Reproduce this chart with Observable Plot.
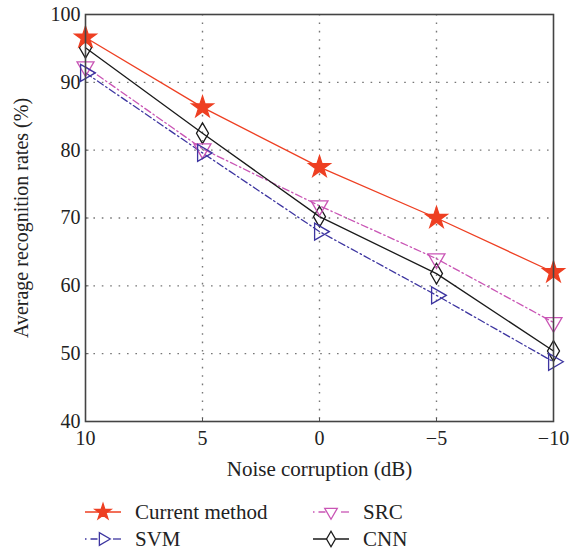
<!DOCTYPE html>
<html><head><meta charset="utf-8">
<script src="https://cdn.jsdelivr.net/npm/d3@7"></script>
<script src="https://cdn.jsdelivr.net/npm/@observablehq/plot@0.6"></script>
<style>
body{margin:0;background:#fff;font-family:"Liberation Serif","DejaVu Serif",serif;}
#legend{position:relative;height:68px;font-size:21px;color:#222;}
.item{position:absolute;display:flex;align-items:center;height:24px;}
.item svg{margin-right:14px;}
</style></head><body>
<div id="chart"></div>
<div id="legend"></div>
<script>
const noise = [10, 5, 0, -5, -10];
const currentMethod = [96.6, 86.3, 77.5, 70.0, 62.0];
const svm = [91.4, 79.6, 68.0, 58.6, 48.8];
const src = [92.3, 80.2, 71.8, 64.0, 54.6];
const cnn = [95.1, 82.5, 70.2, 61.8, 50.4];
const yTicks = [40, 50, 60, 70, 80, 90, 100];

const series = [
  {name: "Current method", values: currentMethod, color: "#ee3f22", dash: null, symbol: "star", rotate: 0, fill: "#ee3f22", r: 6.8},
  {name: "SVM", values: svm, color: "#3d35a0", dash: "7,3,1.5,3", symbol: "triangle", rotate: 90, fill: "white", r: 6.3},
  {name: "SRC", values: src, color: "#c955b5", dash: "7,3,1.5,3", symbol: "triangle", rotate: 180, fill: "white", r: 6.3},
  {name: "CNN", values: cnn, color: "#1a1a1a", dash: null, symbol: "diamond", rotate: 0, fill: "white", r: 6.3}
];
const rows = series.flatMap(s => noise.map((x, i) => ({series: s.name, x, y: s.values[i]})));

const marks = [
  Plot.ruleX([5, 0, -5], {x: d => d, stroke: "#777", strokeDasharray: "1.6,6.8", strokeWidth: 1.4}),
  Plot.ruleY([50, 60, 70, 80, 90], {y: d => d, stroke: "#777", strokeDasharray: "1.6,6.8", strokeWidth: 1.4}),
  Plot.ruleY(yTicks, {y: d => d, x1: 10, x2: 9.85, stroke: "#555"}),
  Plot.ruleX([5, 0, -5], {x: d => d, y1: 40, y2: 40.5, stroke: "#555"})
];
for (const s of series) {
  const d = rows.filter(r => r.series === s.name);
  marks.push(Plot.line(d, {x: "x", y: "y", stroke: s.color, strokeWidth: 1.3, strokeDasharray: s.dash}));
}
for (const s of [...series].reverse()) {
  const d = rows.filter(r => r.series === s.name);
  marks.push(Plot.dot(d, {x: "x", y: "y", symbol: () => s.symbol, rotate: s.rotate, r: s.r, stroke: s.color, fill: s.fill, fillOpacity: s.fill === "white" ? 0 : 1, strokeWidth: 1.3}));
}
marks.push(Plot.frame({stroke: "#444", strokeWidth: 1.6}));

const chart = Plot.plot({
  width: 581, height: 485,
  marginLeft: 85, marginRight: 28, marginTop: 14, marginBottom: 64,
  style: {fontFamily: "'Liberation Serif', 'DejaVu Serif', serif", fontSize: "20px", color: "#222", background: "white", overflow: "visible"},
  symbol: {type: "identity"},
  x: {domain: [10, -10], ticks: noise, tickSize: 0, tickPadding: 9, tickFormat: d => String(d).replace("-", "\u2212"), label: "Noise corruption (dB)", labelAnchor: "center", labelOffset: 54, labelArrow: "none"},
  y: {domain: [40, 100], ticks: yTicks, tickSize: 0, tickPadding: 5, label: "Average recognition rates (%)", labelAnchor: "center", labelOffset: 72, labelArrow: "none"},
  marks
});
document.getElementById("chart").appendChild(chart);
chart.querySelectorAll("[aria-label='x-axis label'] text, [aria-label='x-axis label']").forEach(e => e.style.fontSize = "21px");

// Legend
const leg = document.getElementById("legend");
const pos = [[85, 15], [85, 42], [313, 15], [313, 42]];
const order = ["Current method", "SVM", "SRC", "CNN"];
order.forEach((n, i) => {
  const s = series.find(t => t.name === n);
  const div = document.createElement("div");
  div.className = "item";
  div.style.left = pos[i][0] + "px";
  div.style.top = pos[i][1] + "px";
  const sw = d3.create("svg").attr("width", 36).attr("height", 22);
  sw.append("line").attr("x1", 0).attr("x2", 36).attr("y1", 11).attr("y2", 11)
    .attr("stroke", s.color).attr("stroke-width", 1.3).attr("stroke-dasharray", s.dash ? "1.5,4,7,40" : null);
  if (s.dash) sw.append("line").attr("x1", 28).attr("x2", 36).attr("y1", 11).attr("y2", 11).attr("stroke", s.color).attr("stroke-width", 1.3);
  const symMap = {star: d3.symbolStar, triangle: d3.symbolTriangle, diamond: d3.symbolDiamond};
  const area = s.r * s.r * Math.PI * 0.55;
  sw.append("path").attr("d", d3.symbol(symMap[s.symbol], area)())
    .attr("transform", `translate(18,11) rotate(${s.rotate})`)
    .attr("fill", s.fill).attr("stroke", s.color).attr("stroke-width", 1.3);
  div.appendChild(sw.node());
  const t = document.createElement("span");
  t.textContent = n;
  div.appendChild(t);
  leg.appendChild(div);
});
</script>
</body></html>
